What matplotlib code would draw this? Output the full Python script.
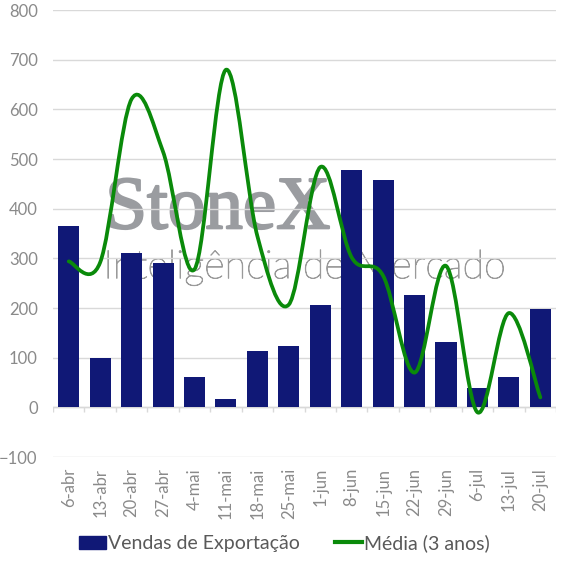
import matplotlib
matplotlib.use('Agg')
import matplotlib.pyplot as plt
import matplotlib.patheffects as pe
from matplotlib.path import Path
from matplotlib.patches import PathPatch
from matplotlib.lines import Line2D
from matplotlib.patches import Patch

# data
semanas = ['6-abr', '13-abr', '20-abr', '27-abr', '4-mai', '11-mai', '18-mai', '25-mai',
           '1-jun', '8-jun', '15-jun', '22-jun', '29-jun', '6-jul', '13-jul', '20-jul']
vendas = [365, 99, 310, 290, 61, 17, 114, 124, 207, 478, 458, 226, 131, 39, 61, 198]
media_3anos = [294, 292, 621, 515, 278, 680, 345, 207, 484, 302, 265, 70, 285, -10, 190, 20]

cor_barra = '#101876'
cor_linha = '#0a8a0a'
cor_texto = '#8a8a8a'

plt.rcParams['font.family'] = ['Lato', 'DejaVu Sans']

fig = plt.figure(figsize=(5.68, 5.67), dpi=100)
ax = fig.add_axes([0.0933, 0.194, 0.8857, 0.788])

x = list(range(len(semanas)))
ax.bar(x, vendas, width=0.67, color=cor_barra, zorder=2)

# smoothed line like excel: bezier segments through every point
pts = list(zip(x, media_3anos))
verts = [pts[0]]
codes = [Path.MOVETO]
for i in range(len(pts) - 1):
    p0 = pts[max(i - 1, 0)]
    p1 = pts[i]
    p2 = pts[i + 1]
    p3 = pts[min(i + 2, len(pts) - 1)]
    c1 = (p1[0] + (p2[0] - p0[0]) / 6, p1[1] + (p2[1] - p0[1]) / 6)
    c2 = (p2[0] - (p3[0] - p1[0]) / 6, p2[1] - (p3[1] - p1[1]) / 6)
    verts += [c1, c2, p2]
    codes += [Path.CURVE4] * 3
linha = PathPatch(Path(verts, codes), fill=False, edgecolor=cor_linha, lw=2.7,
                  capstyle='round', joinstyle='round', zorder=4)
ax.add_patch(linha)

# watermark (behind grid and bars)
ax.text(0.104, 0.512, 'StoneX', transform=ax.transAxes, fontsize=54,
        family='Liberation Serif', color='#9a9ca0', zorder=0.3,
        path_effects=[pe.withStroke(linewidth=1.6, foreground='#9a9ca0')])
ax.text(0.100, 0.400, 'Inteligência de Mercado', transform=ax.transAxes, fontsize=28.5,
        fontweight='light', color='#9a9a9a', zorder=0.3,
        path_effects=[pe.withStroke(linewidth=0.6, foreground='#9a9a9a')])

ax.set_xlim(-0.5, len(semanas) - 0.5)
ax.set_ylim(-100, 800)
ax.set_yticks(range(-100, 801, 100))
ax.set_xticks(x)
ax.set_xticklabels(semanas, rotation=90)
ax.tick_params(axis='both', length=0, labelsize=12, labelcolor=cor_texto)
ax.tick_params(axis='y', pad=11)
ax.tick_params(axis='x', pad=8)

ax.grid(axis='y', color='#d9d9d9', lw=1)
ax.set_axisbelow(True)
for s in ax.spines.values():
    s.set_visible(False)

# category axis at zero with small ticks
ax.axhline(0, color='#d9d9d9', lw=1, zorder=1)
ax.vlines([i - 0.5 for i in range(len(semanas) + 1)], -10, 0, color='#d9d9d9', lw=1, zorder=1)

handles = [Patch(color=cor_barra), Line2D([], [], color=cor_linha, lw=3)]
fig.legend(handles, ['Vendas de Exportação', 'Média (3 anos)'], loc='center',
           bbox_to_anchor=(0.5, 0.042), ncol=2, frameon=False, fontsize=14,
           labelcolor='#595959', handlelength=1.4, handletextpad=0.1, columnspacing=1.8)

plt.savefig('out.png', dpi=100)
